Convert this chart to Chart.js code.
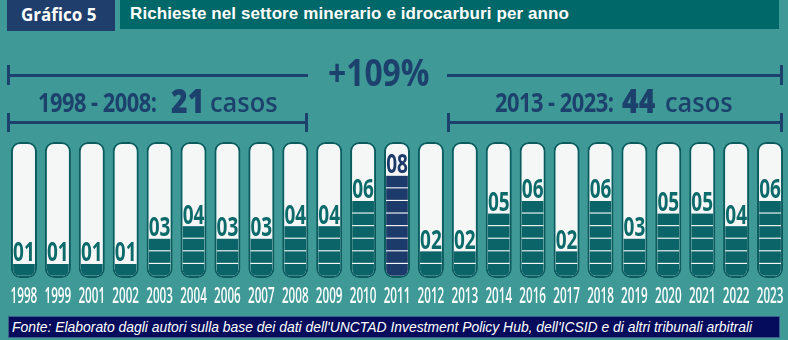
<!DOCTYPE html>
<html>
<head>
<meta charset="utf-8">
<script src="https://cdn.jsdelivr.net/npm/chart.js@4.4.1/dist/chart.umd.min.js"></script>
<style>
  html, body { margin: 0; padding: 0; }
  body { width: 788px; height: 340px; background: #3f9997; position: relative; overflow: hidden; font-family: 'Open Sans', sans-serif; }
  #chart { position: absolute; left: 0; top: 0; }
  .abs { position: absolute; white-space: nowrap; }
  .ln { position: absolute; background: #1d416d; }
  .ann { position: absolute; white-space: nowrap; line-height: 0; color: #1d416d; font-weight: 700; transform-origin: left center; }
  #g5 { left: 7px; top: 0; width: 108px; height: 31px; background: #1f3e6c; color: #fff; font-weight: 700; font-size: 17px; line-height: 30px; padding-left: 14px; box-sizing: border-box; }
  #ttl { left: 120px; top: 0; width: 659px; height: 29px; background: #006868; color: #fff; font-family: 'Liberation Sans', Arial, sans-serif; font-weight: 700; font-size: 17px; line-height: 28px; padding-left: 10px; box-sizing: border-box; letter-spacing: 0.1px; }
  #src { left: 8px; top: 316px; width: 772px; height: 22px; background: #050c5b; border: 1px solid #3a6088; box-sizing: border-box; color: #fff; font-family: 'Liberation Sans', Arial, sans-serif; font-style: italic; font-size: 13.9px; line-height: 20px; padding-left: 3px; }
</style>
</head>
<body>
<canvas id="chart" width="788" height="340"></canvas>

<div id="g5" class="abs">Gráfico 5</div>
<div id="ttl" class="abs">Richieste nel settore minerario e idrocarburi per anno</div>

<!-- brackets -->
<div class="ln" style="left:8px;top:74px;width:300px;height:3px"></div>
<div class="ln" style="left:447px;top:74px;width:336px;height:3px"></div>
<div class="ln" style="left:7px;top:65px;width:3px;height:20px"></div>
<div class="ln" style="left:780px;top:65px;width:3px;height:20px"></div>

<div class="ln" style="left:8px;top:121px;width:300px;height:3px"></div>
<div class="ln" style="left:7px;top:113px;width:3px;height:19px"></div>
<div class="ln" style="left:305px;top:113px;width:3px;height:19px"></div>

<div class="ln" style="left:448px;top:121px;width:335px;height:3px"></div>
<div class="ln" style="left:447px;top:113px;width:3px;height:19px"></div>
<div class="ln" style="left:780px;top:113px;width:3px;height:19px"></div>

<div class="ann" style="left:328px;top:72px;font-size:37px;transform:scaleX(0.86)">+109%</div>

<div class="ann" style="left:38px;top:102px;font-size:26px;transform:scaleX(0.84);letter-spacing:-0.6px">1998 - 2008:</div>
<div class="ann" style="left:171px;top:100.5px;font-size:33px;font-weight:800;transform:scaleX(0.86)">21</div>
<div class="ann" style="left:210px;top:101.5px;font-size:27px;font-weight:600;transform:scaleX(0.94)">casos</div>

<div class="ann" style="left:495px;top:102px;font-size:26px;transform:scaleX(0.84);letter-spacing:-0.6px">2013 - 2023:</div>
<div class="ann" style="left:622px;top:100.5px;font-size:33px;font-weight:800;transform:scaleX(0.86)">44</div>
<div class="ann" style="left:665px;top:101.5px;font-size:27px;font-weight:600;transform:scaleX(0.94)">casos</div>

<div id="src" class="abs">Fonte: Elaborato dagli autori sulla base dei dati dell'UNCTAD Investment Policy Hub, dell'ICSID e di altri tribunali arbitrali</div>

<script>
  // ---- data ----
  const years = ['1998', '1999', '2001', '2002', '2003', '2004', '2006', '2007', '2008', '2009', '2010', '2011',
    '2012', '2013', '2014', '2016', '2017', '2018', '2019', '2020', '2021', '2022', '2023'];
  const counts = [1, 1, 1, 1, 3, 4, 3, 3, 4, 4, 6, 8, 2, 2, 5, 6, 2, 6, 3, 5, 5, 4, 6];
  const highlightYear = '2011';

  const Y_MIN = -0.16;   // tube border below zero
  const Y_MAX = 10.64;   // tube top
  const GAP = 0.045;     // half of the light line between segments

  const TEAL = '#0a6468';
  const NAVY = '#1c3a6a';
  const fillFor = (i) => (years[i] === highlightYear ? NAVY : TEAL);

  // one floating bar per unit, so the light separators show between them
  const maxCount = Math.max(...counts);
  const segmentSets = [];
  for (let k = 1; k <= maxCount; k++) {
    segmentSets.push({
      label: 'seg' + k,
      data: counts.map((c) => (c >= k ? [k === 1 ? 0.02 : k - 1 + GAP, k - GAP] : null)),
      backgroundColor: counts.map((c, i) => fillFor(i)),
      borderWidth: 0,
      borderSkipped: false,
      borderRadius: k === 1 ? { topLeft: 0, topRight: 0, bottomLeft: 8, bottomRight: 8 } : 0,
      barPercentage: 0.64,
      categoryPercentage: 1,
      grouped: false,
      order: 1,
    });
  }

  const tubeSet = {
    label: 'tube',
    data: years.map(() => [Y_MIN, Y_MAX]),
    backgroundColor: '#f5f7f7',
    borderColor: '#0b5b5f',
    borderWidth: 2,
    borderSkipped: false,
    borderRadius: 9,
    barPercentage: 0.767,
    categoryPercentage: 1,
    grouped: false,
    order: 10,
  };

  function condensedText(ctx, text, cx, baseY, font, sx, color) {
    ctx.save();
    ctx.translate(cx, baseY);
    ctx.scale(sx, 1);
    ctx.font = font;
    ctx.fillStyle = color;
    ctx.textAlign = 'center';
    ctx.textBaseline = 'alphabetic';
    ctx.fillText(text, 0, 0);
    ctx.restore();
  }

  const tubeLabels = {
    id: 'tubeLabels',
    afterDatasetsDraw(chart) {
      const { ctx, scales: { x, y } } = chart;
      years.forEach((yr, i) => {
        const cx = x.getPixelForValue(i);
        const valColor = yr === highlightYear ? NAVY : '#0c6a6b';
        condensedText(ctx, String(counts[i]).padStart(2, '0'), cx, y.getPixelForValue(counts[i]) - 2,
          '700 26px "Open Sans"', 0.73, valColor);
        condensedText(ctx, yr, cx, 303, '600 22px "Open Sans"', 0.53, '#ffffff');
      });
    },
  };

  new Chart(document.getElementById('chart'), {
    type: 'bar',
    data: { labels: years, datasets: [...segmentSets, tubeSet] },
    options: {
      responsive: false,
      animation: false,
      devicePixelRatio: 1,
      layout: { padding: { left: 7, right: 1, top: 142, bottom: 62 } },
      plugins: { legend: { display: false }, tooltip: { enabled: false } },
      scales: {
        x: { display: false },
        y: { display: false, min: Y_MIN, max: Y_MAX },
      },
    },
    plugins: [tubeLabels],
  });
</script>
</body>
</html>
